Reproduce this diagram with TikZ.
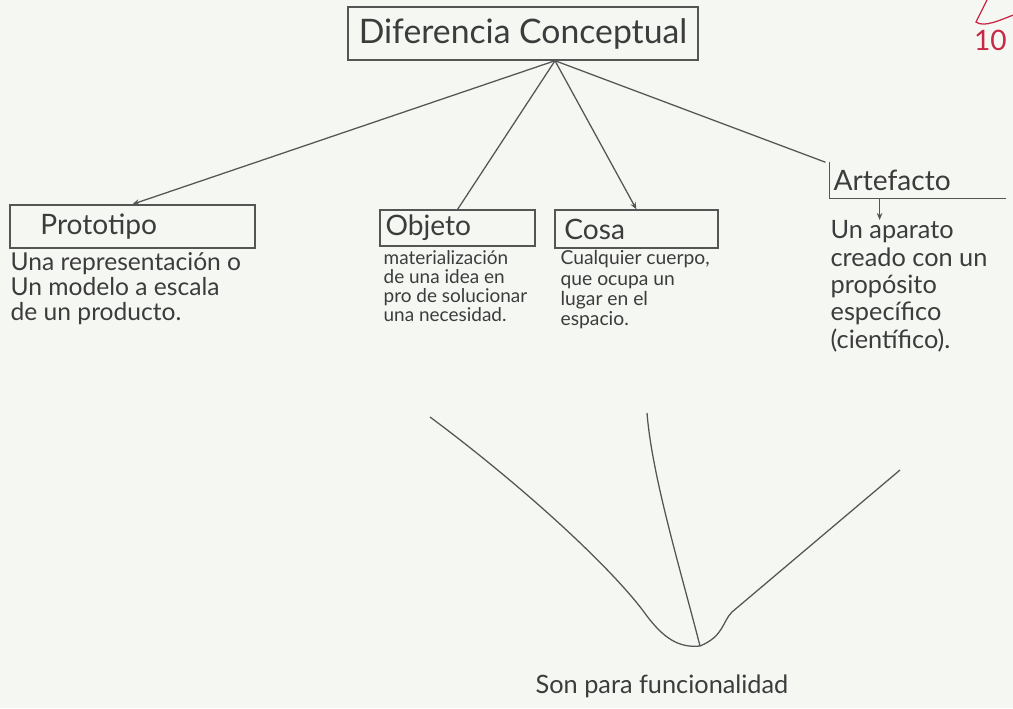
\documentclass[tikz,border=0pt]{standalone}
\usepackage{fontspec}
\setmainfont{Lato}
\usetikzlibrary{arrows.meta}
\definecolor{papel}{RGB}{245,247,243}
\definecolor{lapiz}{RGB}{85,85,85}
\definecolor{tinta}{RGB}{60,60,60}
\definecolor{nota}{RGB}{200,40,70}

\begin{document}
\begin{tikzpicture}[
  line width=0.9pt, color=lapiz, text=tinta,
    box/.style={draw=lapiz, minimum height=1cm, align=center, inner sep=2pt,
                font=\fontsize{20}{24}\selectfont},
    defn/.style={anchor=north west, align=left, inner sep=0pt},
    rama/.style={-{Stealth[length=5pt,width=4pt]}},
]
\useasboundingbox (0,0) rectangle (25.325,17.7);
\fill[papel] (0,0) rectangle (25.325,17.7);

% titulo
\node[box, minimum width=8.75cm, minimum height=1.325cm,
      font=\fontsize{24}{28}\selectfont] (titulo) at (13.075,16.86) {Diferencia Conceptual};
\coordinate (hub) at ([xshift=0.8cm]titulo.south);

% cajas
\node[box, minimum width=6.125cm, minimum height=1.075cm,
      text width=4.6cm, align=left] (proto) at (3.31,12.04) {Prototipo};
\node[box, minimum width=3.875cm, minimum height=0.9cm,
      text width=3.6cm, align=left] (objeto) at (11.44,12.0) {Objeto};
\node[box, minimum width=4.075cm, minimum height=0.95cm,
      text width=3.6cm, align=left] (cosa) at (15.91,11.975) {Cosa};
\node[box, draw=none, minimum width=4.375cm, minimum height=0.875cm,
      text width=4.2cm, align=left] (arte) at (22.94,13.19) {Artefacto};
\draw (arte.north west) |- (arte.south east);

\draw[rama] (hub) -- (proto.north);
\draw (hub) -- (objeto.north);
\draw[rama] (hub) -- (cosa.north);
\draw (hub) -- ([xshift=-0.1cm]arte.north west);

% definiciones
\node[defn, font=\fontsize{17.5}{17.7}\selectfont] (protodef) at (0.25,11.4)
  {Una representación o\\Un modelo a escala\\de un producto.};
\node[defn, font=\fontsize{13.5}{13.6}\selectfont] (objdef) at (9.575,11.45)
  {materialización\\de una idea en\\pro de solucionar\\una necesidad.};
\node[defn, font=\fontsize{13.7}{14.4}\selectfont] (cosadef) at (14.0,11.45)
  {Cualquier cuerpo,\\que ocupa un\\lugar en el\\espacio.};
\node[defn, font=\fontsize{18}{19.5}\selectfont] (artedef) at (20.75,12.2)
  {Un aparato\\creado con un\\propósito\\específico\\(científico).};
\draw[rama] ([xshift=-0.95cm]arte.south) -- ([xshift=-0.95cm]arte.south |- artedef.north);

% union
\node[font=\fontsize{18}{21}\selectfont] (son) at (16.55,0.55) {Son para funcionalidad};
\coordinate (union) at (17.5,1.55);
\coordinate (v1) at (10.75,7.275);
\coordinate (v2) at (16.175,7.375);
\coordinate (v3) at (22.5,5.95);
\draw (v1) .. controls (13.0,5.6) and (15.2,3.6) .. (16.1,2.4) .. controls (16.6,1.7) and (17.0,1.5) .. (union);
\draw (v2) .. controls (16.3,5.8) and (17.0,3.5) .. (union);
\draw (v3) -- (18.3,2.4) .. controls (18.05,2.15) and (18.1,1.8) .. (union);

% nota
\draw[nota] (24.7,17.75) -- (24.4,17.15) .. controls (24.6,17.0) and (25.0,17.2) .. (25.4,17.35);
\node[text=nota, anchor=east, font=\fontsize{20}{24}\selectfont] (calif) at (25.3,16.7) {10};
\end{tikzpicture}
\end{document}
